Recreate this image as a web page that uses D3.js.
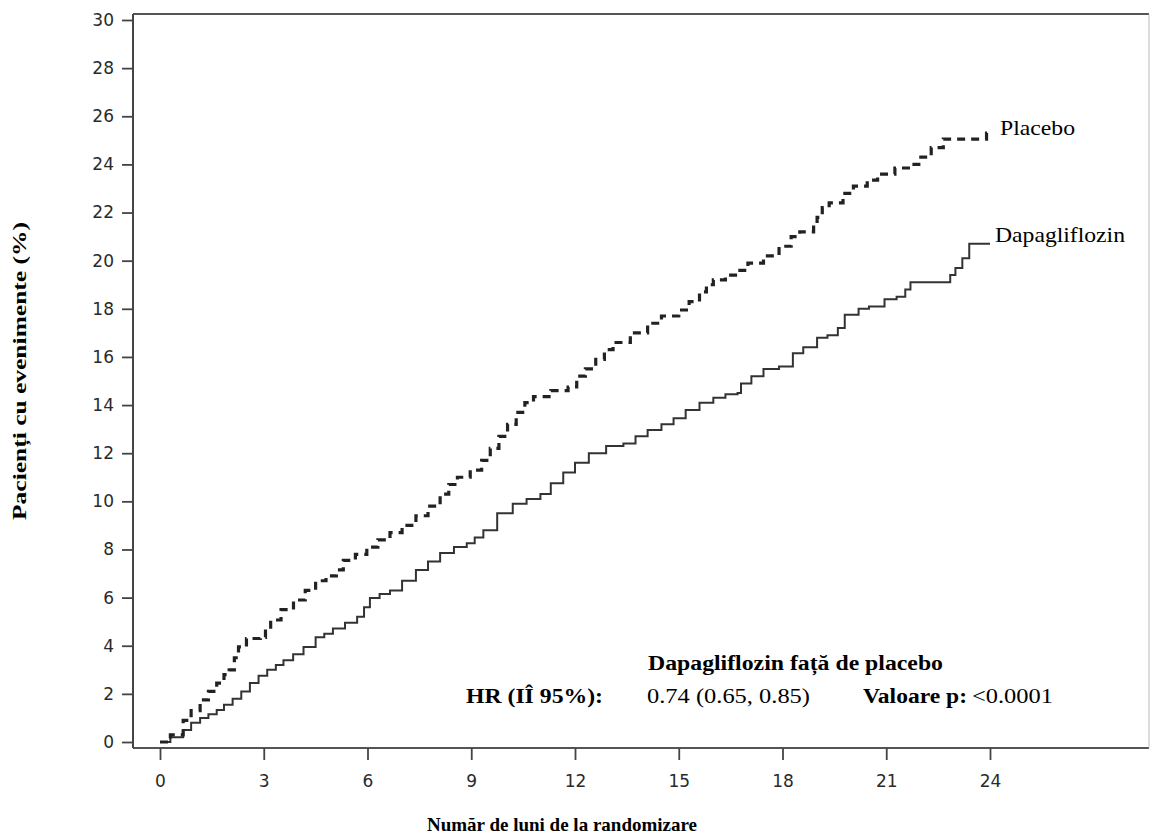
<!DOCTYPE html>
<html>
<head>
<meta charset="utf-8">
<script src="https://cdn.jsdelivr.net/npm/d3@7"></script>
<style>
  html, body { margin: 0; padding: 0; background: #fff; }
  svg { display: block; }
  .tick text { font-family: "DejaVu Sans", sans-serif; font-size: 17px; fill: #2a2a2a; }
</style>
</head>
<body>
<svg id="chart" width="1151" height="837"></svg>
<script>
// ---- Data ----
const xTicks = [0, 3, 6, 9, 12, 15, 18, 21, 24];
const yTicks = [0, 2, 4, 6, 8, 10, 12, 14, 16, 18, 20, 22, 24, 26, 28, 30];

const placeboMonths = [0, 0.3, 0.67, 0.9, 1.16, 1.4, 1.64, 1.85, 2.0, 2.15, 2.27, 2.5, 2.9, 3.05, 3.2, 3.5, 3.86, 4.2, 4.5, 4.8, 5.1, 5.3, 5.65, 5.98, 6.3, 6.65, 7.0, 7.4, 7.75, 8.1, 8.35, 8.6, 8.97, 9.3, 9.55, 9.8, 10.05, 10.3, 10.55, 10.8, 11.3, 11.8, 12.05, 12.3, 12.6, 12.85, 13.1, 13.6, 14.1, 14.5, 15.0, 15.3, 15.6, 15.8, 16.0, 16.35, 16.7, 17.0, 17.45, 17.9, 18.25, 18.5, 18.9, 19.0, 19.15, 19.35, 19.75, 20.05, 20.45, 20.75, 21.25, 21.75, 22.0, 22.3, 22.65, 23.9, 23.95];
const placeboPct =    [0, 0.3, 0.9, 1.3, 1.75, 2.1, 2.45, 2.8, 3.0, 3.5, 3.95, 4.3, 4.35, 4.7, 5.07, 5.5, 5.9, 6.3, 6.7, 6.9, 7.15, 7.55, 7.8, 8.1, 8.4, 8.7, 9.0, 9.4, 9.8, 10.3, 10.7, 11.0, 11.3, 11.7, 12.2, 12.7, 13.2, 13.7, 14.1, 14.35, 14.6, 14.75, 15.2, 15.5, 15.9, 16.3, 16.6, 17.0, 17.4, 17.7, 17.95, 18.3, 18.7, 19.0, 19.2, 19.4, 19.6, 19.9, 20.2, 20.6, 21.0, 21.2, 21.55, 21.8, 22.2, 22.4, 22.8, 23.1, 23.35, 23.6, 23.85, 24.0, 24.3, 24.7, 25.05, 25.3, 25.3];

const dapaMonths = [0, 0.3, 0.67, 0.9, 1.16, 1.4, 1.64, 1.85, 2.1, 2.35, 2.6, 2.85, 3.1, 3.35, 3.57, 3.85, 4.15, 4.5, 4.75, 5.0, 5.35, 5.7, 5.9, 6.07, 6.35, 6.65, 7.0, 7.4, 7.75, 8.1, 8.5, 8.87, 9.1, 9.35, 9.75, 10.2, 10.6, 11.0, 11.3, 11.66, 12.0, 12.4, 12.9, 13.4, 13.75, 14.1, 14.5, 14.85, 15.2, 15.6, 16.0, 16.35, 16.7, 16.8, 17.1, 17.45, 17.9, 18.3, 18.6, 19.0, 19.3, 19.6, 19.8, 20.2, 20.5, 20.95, 21.3, 21.55, 21.7, 22.65, 22.85, 23.0, 23.2, 23.4, 24.0];
const dapaPct =    [0, 0.2, 0.5, 0.8, 1.0, 1.15, 1.33, 1.55, 1.8, 2.1, 2.45, 2.75, 3.0, 3.2, 3.4, 3.65, 3.95, 4.35, 4.5, 4.72, 4.95, 5.2, 5.6, 5.98, 6.15, 6.3, 6.7, 7.15, 7.5, 7.85, 8.1, 8.26, 8.5, 8.8, 9.5, 9.9, 10.1, 10.3, 10.75, 11.2, 11.6, 12.0, 12.3, 12.4, 12.7, 12.96, 13.2, 13.45, 13.8, 14.1, 14.3, 14.45, 14.5, 14.9, 15.2, 15.5, 15.6, 16.15, 16.4, 16.8, 16.9, 17.2, 17.75, 18.0, 18.1, 18.4, 18.5, 18.8, 19.1, 19.1, 19.4, 19.7, 20.1, 20.7, 20.7];

const seriesNames = ["Placebo", "Dapagliflozin"];
const yTitle = "Pacienți cu evenimente (%)";
const xTitle = "Număr de luni de la randomizare";
const annoTitle = "Dapagliflozin față de placebo";
const hrLabel = "HR (IÎ 95%):";
const hrValue = "0.74 (0.65, 0.85)";
const pLabel = "Valoare p:";
const pValue = "<0.0001";

// ---- Drawing ----
const svg = d3.select("#chart");
svg.append("rect").attr("width", 1151).attr("height", 837).attr("fill", "#fff");

const box = { left: 133, right: 1149, top: 14, bottom: 748 };
const x = d3.scaleLinear().domain([0, 24]).range([160, 990]);
const y = d3.scaleLinear().domain([0, 30]).range([742, 20]);

// frame
svg.append("line").attr("x1", box.left).attr("x2", box.right).attr("y1", box.top).attr("y2", box.top)
  .attr("stroke", "#555").attr("stroke-width", 2.2);
svg.append("line").attr("x1", box.left).attr("x2", box.right).attr("y1", box.bottom).attr("y2", box.bottom)
  .attr("stroke", "#555").attr("stroke-width", 2.2);
svg.append("line").attr("x1", box.left).attr("x2", box.left).attr("y1", box.top).attr("y2", box.bottom)
  .attr("stroke", "#444").attr("stroke-width", 2);
svg.append("line").attr("x1", box.right).attr("x2", box.right).attr("y1", box.top).attr("y2", box.bottom)
  .attr("stroke", "#bbb").attr("stroke-width", 1);

// y axis
const yAxis = d3.axisLeft(y).tickValues(yTicks).tickSize(11).tickPadding(8).tickFormat(d3.format("d"));
const gy = svg.append("g").attr("transform", `translate(${box.left},0)`).call(yAxis);
gy.attr("font-size", null).attr("font-family", null);
gy.select(".domain").remove();
gy.selectAll(".tick line").attr("stroke", "#444").attr("stroke-width", 1.8);

// x axis
const xAxis = d3.axisBottom(x).tickValues(xTicks).tickSize(12).tickPadding(15).tickFormat(d3.format("d"));
const gx = svg.append("g").attr("transform", `translate(0,${box.bottom})`).call(xAxis);
gx.attr("font-size", null).attr("font-family", null);
gx.select(".domain").remove();
gx.selectAll(".tick line").attr("stroke", "#444").attr("stroke-width", 1.8);

// curves
const line = d3.line().x(d => x(d[0])).y(d => y(d[1])).curve(d3.curveStepAfter);
const placebo = placeboMonths.map((m, i) => [m, placeboPct[i]]);
const dapa = dapaMonths.map((m, i) => [m, dapaPct[i]]);

svg.append("path").datum(dapa).attr("d", line).attr("fill", "none")
  .attr("stroke", "#333").attr("stroke-width", 2);
svg.append("path").datum(placebo).attr("d", line).attr("fill", "none")
  .attr("stroke", "#222").attr("stroke-width", 3.2).attr("stroke-dasharray", "8,6");

// text helper
function txt(s, px, py, size, weight, len, anchor) {
  const t = svg.append("text").attr("x", px).attr("y", py).text(s)
    .attr("font-family", "Liberation Serif, Times New Roman, serif")
    .attr("font-size", size).attr("font-weight", weight).attr("fill", "#000");
  if (anchor) t.attr("text-anchor", anchor);
  if (len) t.attr("textLength", len).attr("lengthAdjust", "spacingAndGlyphs");
  return t;
}

// series labels
txt(seriesNames[0], 1000, 135, 21, "normal", 75);
txt(seriesNames[1], 995, 242, 21, "normal", 130);

// annotation
txt(annoTitle, 648, 670, 20, "bold", 295);
txt(hrLabel, 466, 703, 20, "bold", 137);
txt(hrValue, 647, 703, 20, "normal", 163);
txt(pLabel, 863, 703, 20, "bold", 104);
txt(pValue, 972, 703, 20, "normal", 81);

// axis titles
txt(xTitle, 562, 831, 19, "bold", 270, "middle");
svg.append("text").attr("transform", "translate(26,371) rotate(-90)")
  .attr("text-anchor", "middle").text(yTitle)
  .attr("font-family", "Liberation Serif, Times New Roman, serif")
  .attr("font-size", 19).attr("font-weight", "bold").attr("fill", "#000")
  .attr("textLength", 298).attr("lengthAdjust", "spacingAndGlyphs");
</script>
</body>
</html>
